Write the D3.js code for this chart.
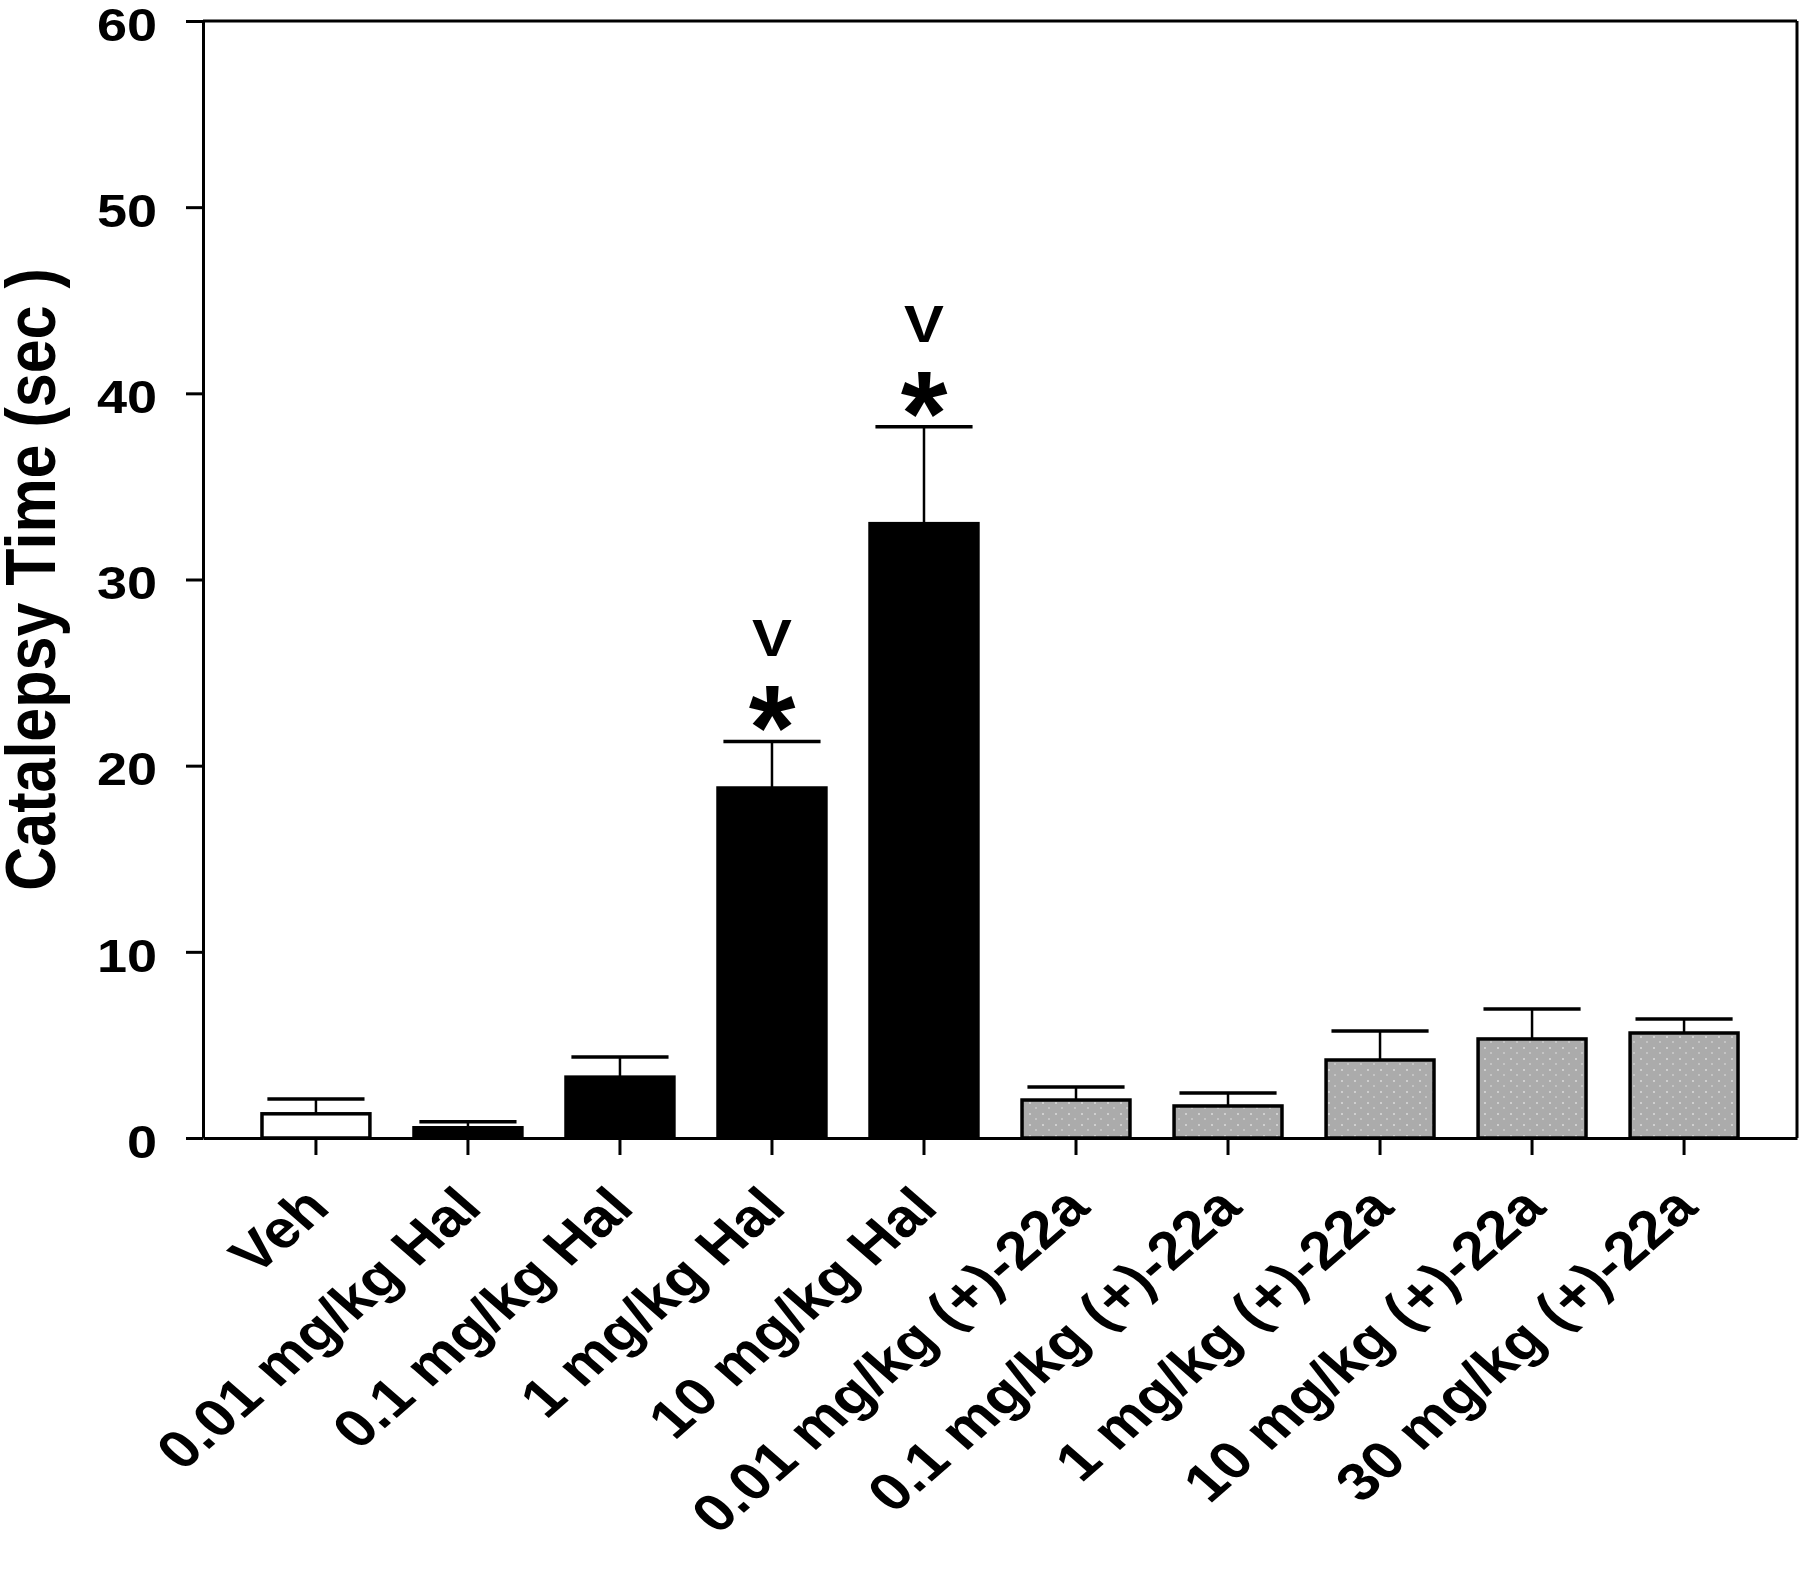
<!DOCTYPE html>
<html>
<head>
<meta charset="utf-8">
<script src="https://cdn.jsdelivr.net/npm/d3@7"></script>
<style>
  body { margin: 0; background: #fff; }
  text { font-family: "Liberation Sans", Arial, sans-serif; font-weight: bold; fill: #000; }
</style>
</head>
<body>
<svg id="chart" width="1800" height="1581"></svg>
<script>
// values
var categories = ["Veh", "0.01 mg/kg Hal", "0.1 mg/kg Hal", "1 mg/kg Hal", "10 mg/kg Hal",
    "0.01 mg/kg (+)-22a", "0.1 mg/kg (+)-22a", "1 mg/kg (+)-22a", "10 mg/kg (+)-22a", "30 mg/kg (+)-22a"];
var means = [1.3, 0.55, 3.27, 18.8, 33.0, 2.04, 1.72, 4.19, 5.32, 5.64];
var sems = [0.8, 0.32, 1.08, 2.5, 5.2, 0.7, 0.7, 1.56, 1.61, 0.75];
var groups = ["veh", "hal", "hal", "hal", "hal", "drug", "drug", "drug", "drug", "drug"];
var starMarks = [false, false, false, true, true, false, false, false, false, false];
var vMarks = [false, false, false, true, true, false, false, false, false, false];
var yTicks = [0, 10, 20, 30, 40, 50, 60];
var yTitle = "Catalepsy Time (sec )";

var plotLeft = 203, plotRight = 1797, plotTop = 21, plotBottom = 1138;
var stretch = 1.15;

var svg = d3.select("#chart");

// dotted grey fill used for the (+)-22a bars
var defs = svg.append("defs");
var pat = defs.append("pattern")
    .attr("id", "dots")
    .attr("patternUnits", "userSpaceOnUse")
    .attr("width", 13).attr("height", 11);
pat.append("rect").attr("width", 13).attr("height", 11).attr("fill", "#ababab");
pat.append("rect").attr("x", 2).attr("y", 2).attr("width", 2).attr("height", 2).attr("fill", "#cfcfcf");
pat.append("rect").attr("x", 8).attr("y", 7).attr("width", 2).attr("height", 2).attr("fill", "#c4c4c4");

var fills = {"veh": "#ffffff", "hal": "#000000", "drug": "url(#dots)"};

var x = d3.scaleBand()
    .domain(categories)
    .range([plotLeft, plotRight])
    .paddingInner(0.29)
    .paddingOuter(0.388);

var y = d3.scaleLinear()
    .domain([0, 60])
    .range([plotBottom, plotTop]);

var data = [];
for (var i = 0; i < categories.length; i++) {
    data.push({"cat": categories[i], "mean": means[i], "sem": sems[i], "group": groups[i],
        "star": starMarks[i], "v": vMarks[i]});
}

// error bars (upper half only) go behind the bars
var capW = x.bandwidth() * 0.9;
var eb = svg.append("g");
eb.selectAll("line.stem")
    .data(data)
    .enter()
    .append("line")
    .attr("class", "stem")
    .attr("x1", function (d) { return x(d.cat) + x.bandwidth() / 2; })
    .attr("x2", function (d) { return x(d.cat) + x.bandwidth() / 2; })
    .attr("y1", function (d) { return y(d.mean); })
    .attr("y2", function (d) { return y(d.mean + d.sem); })
    .attr("stroke", "#000")
    .attr("stroke-width", 2.5);
eb.selectAll("line.cap")
    .data(data)
    .enter()
    .append("line")
    .attr("class", "cap")
    .attr("x1", function (d) { return x(d.cat) + x.bandwidth() / 2 - capW / 2; })
    .attr("x2", function (d) { return x(d.cat) + x.bandwidth() / 2 + capW / 2; })
    .attr("y1", function (d) { return y(d.mean + d.sem); })
    .attr("y2", function (d) { return y(d.mean + d.sem); })
    .attr("stroke", "#000")
    .attr("stroke-width", 3.5);

svg.append("g")
    .selectAll("rect")
    .data(data)
    .enter()
    .append("rect")
    .attr("x", function (d) { return x(d.cat); })
    .attr("y", function (d) { return y(d.mean); })
    .attr("width", x.bandwidth())
    .attr("height", function (d) { return y(0) - y(d.mean); })
    .attr("fill", function (d) { return fills[d.group]; })
    .attr("stroke", "#000")
    .attr("stroke-width", 3.5);

// significance marks above the caps
var marks = svg.append("g");
marks.selectAll("text.star")
    .data(data.filter(function (d) { return d.star; }))
    .enter()
    .append("text")
    .attr("class", "star")
    .attr("x", function (d) { return x(d.cat) + x.bandwidth() / 2; })
    .attr("y", function (d) { return y(d.mean + d.sem) - 40 + 68; })
    .attr("text-anchor", "middle")
    .style("font-size", "120px")
    .text("*");
marks.selectAll("text.vee")
    .data(data.filter(function (d) { return d.v; }))
    .enter()
    .append("text")
    .attr("class", "vee")
    .attr("transform", function (d) {
        return "translate(" + (x(d.cat) + x.bandwidth() / 2) + "," + (y(d.mean + d.sem) - 104 + 19) + ") scale(" + stretch + ",1)";
    })
    .attr("text-anchor", "middle")
    .style("font-size", "52px")
    .text("V");

// axes
var yAxis = svg.append("g")
    .attr("transform", "translate(" + plotLeft + ",0)")
    .call(d3.axisLeft(y).tickValues(yTicks).tickSize(17).tickSizeOuter(0).tickPadding(0));
yAxis.select(".domain").attr("stroke-width", 3);
yAxis.selectAll(".tick line").attr("stroke-width", 3);
yAxis.selectAll(".tick text")
    .attr("x", -40)
    .attr("dy", "0.41em")
    .attr("transform", "scale(" + stretch + ",1)")
    .style("font-size", "47px")
    .style("font-family", "'Liberation Sans', Arial, sans-serif");

var xAxis = svg.append("g")
    .attr("transform", "translate(0," + plotBottom + ")")
    .call(d3.axisBottom(x).tickSize(17).tickSizeOuter(0));
xAxis.select(".domain").attr("stroke-width", 3);
xAxis.selectAll(".tick line").attr("stroke-width", 3);
xAxis.selectAll(".tick text")
    .attr("x", 0)
    .attr("y", 0)
    .attr("dy", 0)
    .attr("text-anchor", "end")
    .attr("transform", "translate(16,72) scale(" + stretch + ",1) rotate(-45)")
    .style("font-size", "53px")
    .style("font-family", "'Liberation Sans', Arial, sans-serif");

// top and right frame
svg.append("line")
    .attr("x1", plotLeft).attr("x2", plotRight).attr("y1", plotTop).attr("y2", plotTop)
    .attr("stroke", "#000").attr("stroke-width", 3);
svg.append("line")
    .attr("x1", plotRight).attr("x2", plotRight).attr("y1", plotTop).attr("y2", plotBottom)
    .attr("stroke", "#000").attr("stroke-width", 3);

svg.append("text")
    .attr("transform", "translate(55," + ((plotTop + plotBottom) / 2) + ") scale(" + stretch + ",1) rotate(-90)")
    .attr("text-anchor", "middle")
    .style("font-size", "61px")
    .text(yTitle);
</script>
</body>
</html>
